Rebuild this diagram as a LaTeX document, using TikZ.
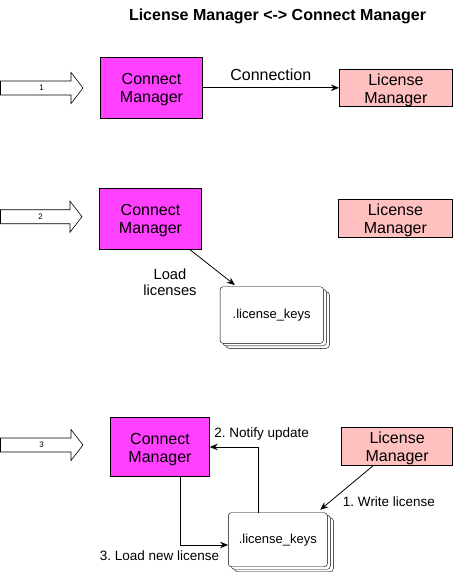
\documentclass[tikz,border=0pt]{standalone}
\usepackage{fontspec}
\setmainfont{Liberation Sans}
\usetikzlibrary{arrows.meta,calc}
\definecolor{cmfill}{HTML}{FF40FF}
\definecolor{lmfill}{HTML}{FFC0C0}
\frenchspacing
\newcommand\boxtext[1]{\raisebox{-2.5pt}[\height][\depth]{\begin{tabular}{@{}c@{}}#1\end{tabular}}}
\tikzset{
  box/.style={draw=black, line width=0.8pt, inner sep=0pt, align=center,
    font=\fontsize{16}{18}\selectfont},
  cmbox/.style={box, fill=cmfill},
  lmbox/.style={box, fill=lmfill},
  card/.style={draw=black, fill=white, rounded corners=3pt, inner sep=0pt,
    font=\fontsize{13}{15}\selectfont},
  cardback/.style={draw=black, fill=white, rounded corners=3pt},
  arr/.style={draw=black, line width=0.8pt, -{Stealth[length=8pt,width=6.5pt]}},
  lbl/.style={inner sep=0pt, font=\fontsize{13.5}{15}\selectfont},
  bigarrow/.style={draw=black, line width=0.6pt, fill=white},
  numlbl/.style={inner sep=0pt, font=\fontsize{8}{9}\selectfont},
}
\begin{document}
\begin{tikzpicture}[x=1pt, y=1pt]
\useasboundingbox (0,0) rectangle (453,-572);

% title
\node[inner sep=0pt, font=\fontsize{16}{18}\selectfont\bfseries] (title) at (277.5,-16) {License Manager <-> Connect Manager};

% block arrows
\draw[bigarrow] (0.5,-81) -- (71,-81) -- (71,-72.5) -- (83,-88) -- (71,-103.5) -- (71,-95) -- (0.5,-95) -- cycle;
\node[numlbl] (n1) at (41.5,-88) {1};
\draw[bigarrow] (0.5,-209.7) -- (70,-209.7) -- (70,-201.2) -- (82,-216.7) -- (70,-232.2) -- (70,-223.7) -- (0.5,-223.7) -- cycle;
\node[numlbl] (n2) at (40.5,-216.7) {2};
\draw[bigarrow] (0.5,-438) -- (71,-438) -- (71,-429.5) -- (83,-445) -- (71,-460.5) -- (71,-452) -- (0.5,-452) -- cycle;
\node[numlbl] (n3) at (41.5,-445) {3};

% row 1
\node[cmbox, minimum width=101.6pt, minimum height=61pt] (cm1) at (151.5,-87.8) {\boxtext{Connect\\Manager}};
\node[lmbox, minimum width=113pt, minimum height=37.4pt] (lm1) at (395.9,-88) {\boxtext{License\\Manager}};
\draw[arr] (cm1.east) -- (cm1.east -| lm1.west);
\node[inner sep=0pt, font=\fontsize{16}{18}\selectfont] (lc) at (270.8,-74.3) {Connection};

% row 2
\node[cmbox, minimum width=102.4pt, minimum height=61pt] (cm2) at (150.5,-218.8) {\boxtext{Connect\\Manager}};
\node[lmbox, minimum width=114pt, minimum height=38.3pt] (lm2) at (395.4,-218.2) {\boxtext{License\\Manager}};
\draw[cardback] (226,-291.7) rectangle (329.3,-348.3);
\draw[cardback] (223,-289.2) rectangle (326.3,-345.8);
\node[card, minimum width=103.3pt, minimum height=56.6pt] (k2) at (271.7,-315) {.license\_keys};
\draw[arr] ($(cm2.south)+(39.5,0)$) -- ($(k2.north west)+(15,1.5)$);
\node[inner sep=0pt, align=center, font=\fontsize{14.7}{16}\selectfont] (ll) at (170,-282) {Load\\licenses};

% row 3
\node[cmbox, minimum width=98.6pt, minimum height=59.4pt] (cm3) at (160,-447) {\boxtext{Connect\\Manager}};
\node[lmbox, minimum width=111pt, minimum height=37.7pt] (lm3) at (397.1,-446.2) {\boxtext{License\\Manager}};
\draw[cardback] (234.3,-517.7) rectangle (333.3,-571.7);
\draw[cardback] (231.3,-515.2) rectangle (330.3,-569.2);
\node[card, minimum width=99pt, minimum height=54pt] (k3) at (277.8,-539.7) {.license\_keys};
\draw[arr] ($(k3.north)+(-19.5,0)$) |- (cm3.east);
\draw[arr] ($(cm3.south)+(20.7,0)$) |- ($(k3.west)+(0,-5.3)$);
\draw[arr] ($(lm3.south)+(-23.7,0)$) -- ($(k3.north east)+(-7.3,2.7)$);
\node[lbl] (l2) at (261.7,-434.3) {2. Notify update};
\node[lbl] (l1) at (389,-501.7) {1. Write license};
\node[lbl] (l3) at (159.5,-555.7) {3. Load new license};
\end{tikzpicture}
\end{document}
